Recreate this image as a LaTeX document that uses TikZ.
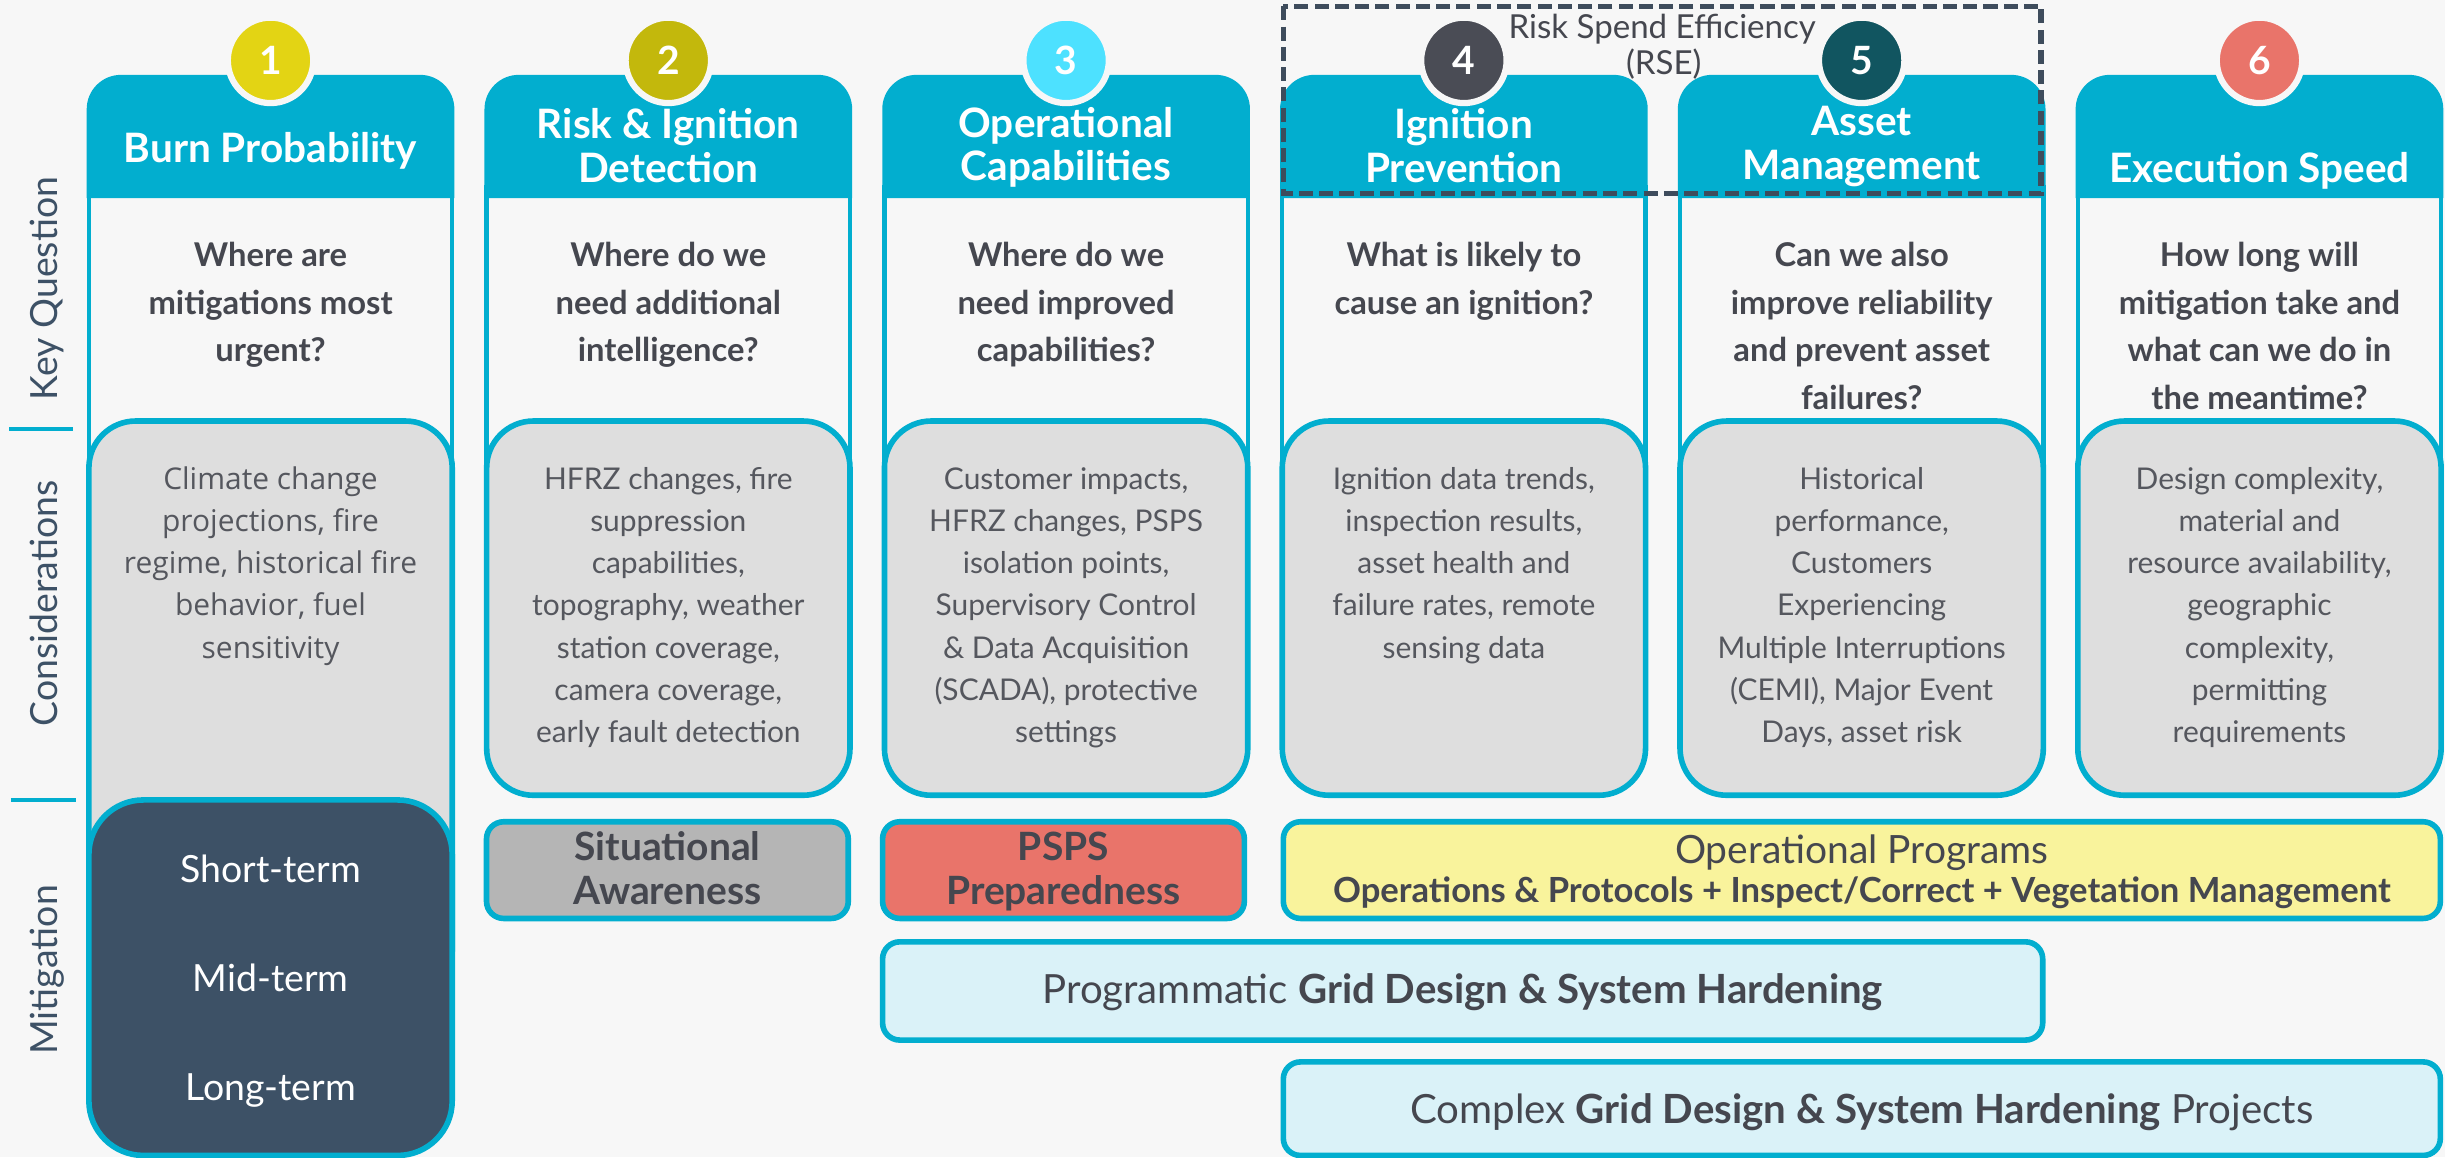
\documentclass[tikz,border=0pt]{standalone}
\usepackage{fontspec}
\setmainfont{Lato}
\newfontfamily\opensans{Open Sans}

\definecolor{bgc}{HTML}{F7F7F7}
\definecolor{hdrc}{HTML}{02AECF}
\definecolor{greyc}{HTML}{DEDEDE}
\definecolor{slatec}{HTML}{3D5166}
\definecolor{inkc}{HTML}{45474F}
\definecolor{consc}{HTML}{55575E}
\definecolor{numa}{HTML}{E3D414}
\definecolor{numb}{HTML}{C3B80C}
\definecolor{numc}{HTML}{4DE1FF}
\definecolor{numd}{HTML}{4A4C55}
\definecolor{nume}{HTML}{115560}
\definecolor{numf}{HTML}{E9746A}
\definecolor{sitc}{HTML}{B5B5B5}
\definecolor{pspsc}{HTML}{E9746A}
\definecolor{opc}{HTML}{F9F39C}
\definecolor{gridc}{HTML}{DAF2F8}
\definecolor{rsec}{HTML}{3E4C5C}

% centred lines, baseline on the first line
\newcommand\colstack[1]{\begin{tabular}[t]{@{}c@{}}#1\end{tabular}}

\begin{document}
\begin{tikzpicture}[x=1pt, y=-1pt,
    colbody/.style={draw=hdrc, line width=2.8pt, fill=bgc},
    consbox/.style={draw=hdrc, line width=3.6pt, fill=greyc, rounded corners=30pt},
    numdot/.style={circle, draw=bgc, line width=4pt, minimum size=54.8pt, inner sep=0pt,
        text=white, font=\fontsize{25}{25}\selectfont\bfseries},
    title/.style={anchor=base, inner sep=0pt, text=white, font=\fontsize{26}{28}\selectfont\bfseries},
    quest/.style={anchor=base, inner sep=0pt, text=inkc, font=\fontsize{21}{30.5}\selectfont\bfseries},
    cons/.style={anchor=base, inner sep=0pt, text=consc, font=\fontsize{19.2}{27}\selectfont},
    term/.style={anchor=base, text=white, font=\fontsize{24}{24}\selectfont},
    progbox/.style={draw=hdrc, line width=3.6pt, rounded corners=11pt},
    progtxt/.style={anchor=base, inner sep=0pt, text=inkc, font=\fontsize{25}{28.5}\selectfont\bfseries},
    gridtxt/.style={anchor=base, text=inkc, font=\fontsize{25.8}{25.8}\selectfont},
    rowlabel/.style={anchor=base, rotate=90, text=slatec, font=\fontsize{24}{24}\selectfont},
    tick/.style={draw=hdrc, line width=2.6pt},
    rsebox/.style={draw=rsec, line width=3.5pt, dash pattern=on 9pt off 4pt},
    rsetxt/.style={anchor=base, text=inkc, font=\fontsize{21.2}{21.2}\selectfont}]

    \useasboundingbox[fill=bgc] (0,0) rectangle (1568,742);

    % row labels
    \node[rowlabel] (lblq) at (36.8,185) {Key Question};
    \node[rowlabel] (lblc) at (36.8,387) {Considerations};
    \node[rowlabel] (lblm) at (36.8,622) {Mitigation};
    \draw[tick] (6,275) -- (47,275);
    \draw[tick] (7,513) -- (49,513);

    % six columns
    \foreach \i/\c/\ty/\ttl/\q/\cons in {
        1/numa/104/{Burn Probability}/{Where are\\mitigations most\\urgent?}/{\opensans Climate change\\\opensans projections, fire\\\opensans regime, historical fire\\\opensans behavior, fuel\\\opensans sensitivity},
        2/numb/89/{Risk \& Ignition\\Detection}/{Where do we\\need additional\\intelligence?}/{HFRZ changes, fire\\suppression\\capabilities,\\topography, weather\\station coverage,\\camera coverage,\\early fault detection},
        3/numc/88/{Operational\\Capabilities}/{Where do we\\need improved\\capabilities?}/{Customer impacts,\\HFRZ changes, PSPS\\isolation points,\\Supervisory Control\\\& Data Acquisition\\(SCADA), protective\\settings},
        4/numd/89/{Ignition\\Prevention}/{What is likely to\\cause an ignition?}/{Ignition data trends,\\inspection results,\\asset health and\\failure rates, remote\\sensing data},
        5/nume/87/{Asset\\Management}/{Can we also\\improve reliability\\and prevent asset\\failures?}/{Historical\\performance,\\Customers\\Experiencing\\Multiple Interruptions\\(CEMI), Major Event\\Days, asset risk},
        6/numf/117/{Execution Speed}/{How long will\\mitigation take and\\what can we do in\\the meantime?}/{Design complexity,\\material and\\resource availability,\\geographic\\complexity,\\permitting\\requirements}}{
        \pgfmathsetmacro\xl{57+255.1*(\i-1)}
        \pgfmathsetmacro\xr{\xl+233}
        \pgfmathsetmacro\xm{\xl+116.5}
        \pgfmathsetmacro\yb{\i==1 ? 640 : 510}
        \draw[colbody] (\xl,120) rectangle (\xr,330);
        \fill[hdrc] (\xl-1.4,127) {[rounded corners=22pt] -- (\xl-1.4,48) -- (\xr+1.4,48)} -- (\xr+1.4,127) -- cycle;
        \node[numdot, fill=\c] (num\i) at (\xm,38.7) {\i};
        \node[title] (ttl\i) at (\xm,\ty) {\colstack{\ttl}};
        \node[quest] (q\i) at (\xm,171) {\colstack{\q}};
        \draw[consbox] (\xl,270) rectangle (\xr,\yb);
        \node[cons] (cons\i) at (\xm,314) {\colstack{\cons}};
    }

    % time horizons
    \draw[fill=slatec, draw=hdrc, line width=3.6pt, rounded corners=35pt] (57,513) rectangle (290,741);
    \node[term] (short) at (173.5,566) {Short-term};
    \node[term] (mid) at (173.5,636) {Mid-term};
    \node[term] (long) at (173.5,705.6) {Long-term};

    % mitigation programs
    \draw[progbox, fill=sitc] (312,527) rectangle (544,589);
    \node[progtxt] (sit) at (428,551.6) {\colstack{Situational\\Awareness}};
    \draw[progbox, fill=pspsc] (566,527) rectangle (798,589);
    \node[progtxt] (psps) at (682,551.6) {\colstack{PSPS\\Preparedness}};
    \draw[progbox, fill=opc] (823,527) rectangle (1565,589);
    \node[gridtxt, font=\fontsize{25}{25}\selectfont] (ops) at (1194,553.6) {Operational Programs};
    \node[progtxt, font=\fontsize{22.2}{22.2}\selectfont\bfseries] (opsdet) at (1194,578.5) {Operations \& Protocols + Inspect/Correct + Vegetation Management};
    \draw[progbox, fill=gridc] (566,604) rectangle (1310,667);
    \node[gridtxt] (prog) at (938,643.5) {Programmatic \textbf{Grid Design \& System Hardening}};
    \draw[progbox, fill=gridc] (823,681) rectangle (1565,741);
    \node[gridtxt] (cplx) at (1194,720.4) {Complex \textbf{Grid Design \& System Hardening} Projects};

    % risk spend efficiency
    \draw[rsebox] (823,4) rectangle (1309,124);
    \node[rsetxt] (rse) at (1066,24.6) {Risk Spend Efficiency};
    \node[rsetxt] (rseabbr) at (1067,48) {(RSE)};
\end{tikzpicture}
\end{document}
